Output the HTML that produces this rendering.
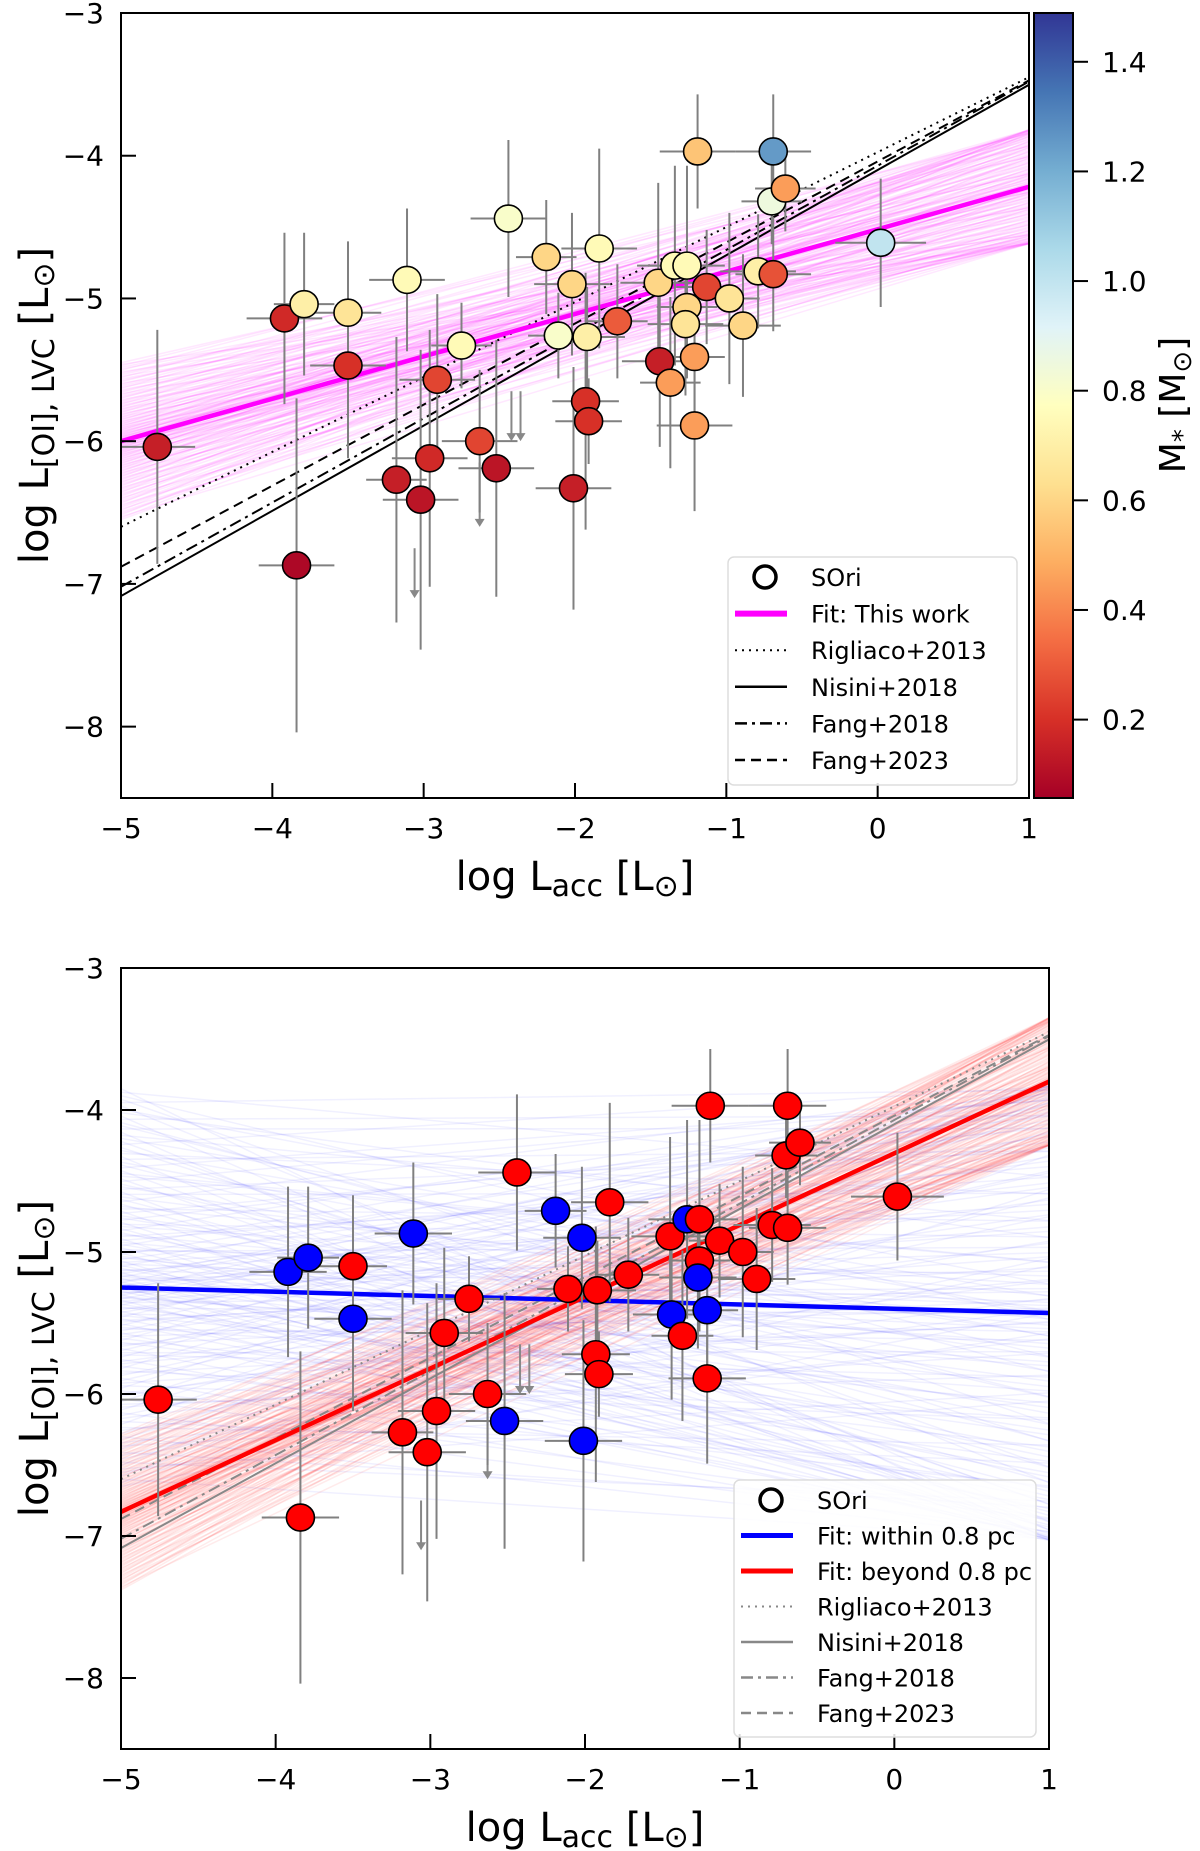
<!DOCTYPE html>
<html><head><meta charset="utf-8"><style>
html,body{margin:0;padding:0;background:#fff;}
svg{display:block;font-family:"DejaVu Sans","Liberation Sans",sans-serif;}
</style></head><body>
<svg id="fig" width="1200" height="1851" viewBox="0 0 1200 1851" xmlns="http://www.w3.org/2000/svg">
<defs>
<linearGradient id="cmap" x1="0" y1="1" x2="0" y2="0">
<stop offset="0" stop-color="#a50026"/><stop offset="0.1" stop-color="#d73027"/><stop offset="0.2" stop-color="#f46d43"/><stop offset="0.3" stop-color="#fdae61"/><stop offset="0.4" stop-color="#fee090"/><stop offset="0.5" stop-color="#ffffbf"/><stop offset="0.6" stop-color="#e0f3f8"/><stop offset="0.7" stop-color="#abd9e9"/><stop offset="0.8" stop-color="#74add1"/><stop offset="0.9" stop-color="#4575b4"/><stop offset="1" stop-color="#313695"/>
</linearGradient>
<clipPath id="clipTop"><rect x="121" y="13" width="908" height="785"/></clipPath>
<clipPath id="clipBot"><rect x="121" y="968" width="928" height="781"/></clipPath>
</defs>
</svg>
<script>
// ---- data ----
const logLacc = [-4.76,-3.92,-3.79,-3.50,-3.50,-3.84,-3.11,-2.75,-2.91,-3.18,-2.96,-3.02,-2.63,-2.52,-2.44,-2.19,-2.02,-2.01,-2.11,-1.92,-1.84,-1.93,-1.91,-1.72,-1.44,-1.45,-1.37,-1.34,-1.26,-1.19,-1.26,-1.27,-1.21,-1.21,-1.13,-0.98,-0.89,-0.79,-0.69,-0.69,-0.70,-0.61,0.02];
const logLoi = [-6.04,-5.14,-5.04,-5.10,-5.47,-6.87,-4.87,-5.33,-5.57,-6.27,-6.12,-6.41,-6.00,-6.19,-4.44,-4.71,-4.90,-6.33,-5.26,-5.27,-4.65,-5.72,-5.86,-5.16,-5.44,-4.89,-5.59,-4.77,-4.77,-3.97,-5.06,-5.18,-5.41,-5.89,-4.92,-5.00,-5.19,-4.81,-4.83,-3.97,-4.32,-4.23,-4.61];
const xErr = [0.25,0.25,0.2,0.22,0.25,0.25,0.25,0.2,0.25,0.2,0.25,0.25,0.25,0.25,0.25,0.2,0.25,0.25,0.2,0.25,0.25,0.22,0.22,0.2,0.25,0.25,0.2,0.25,0.25,0.25,0.2,0.25,0.2,0.25,0.2,0.2,0.25,0.25,0.25,0.25,0.2,0.2,0.3];
const yErr = [0.82,0.6,0.5,0.5,0.65,1.17,0.5,0.3,0.6,1.0,0.9,1.05,0.5,0.9,0.55,0.4,0.5,0.85,0.3,0.35,0.7,0.9,0.3,0.4,0.6,0.7,0.6,0.7,0.7,0.4,0.5,0.5,0.5,0.6,0.4,0.6,0.5,0.4,0.4,0.4,0.3,0.3,0.45];
const mass = [0.15,0.18,0.7,0.65,0.2,0.08,0.75,0.75,0.25,0.15,0.18,0.12,0.25,0.12,0.8,0.6,0.6,0.15,0.8,0.7,0.75,0.2,0.2,0.3,0.15,0.6,0.45,0.75,0.75,0.55,0.6,0.65,0.45,0.45,0.25,0.65,0.6,0.7,0.28,1.25,0.85,0.45,1.0];
const within = [0,1,1,0,1,0,1,0,0,0,0,0,0,1,0,1,1,1,0,0,0,0,0,0,1,0,0,1,0,0,0,1,1,0,0,0,0,0,0,0,0,0,0];
const limX = [-2.42,-2.36,-2.63,-3.06];
const limTop = [-5.65,-5.65,-6.15,-6.75];
const limBot = [-6.0,-6.0,-6.6,-7.1];
// fit lines: [slope, intercept]
const fitThisWork = [0.297,-4.515];
const fitRigliaco = [0.525,-3.975];
const fitNisini = [0.597,-4.10];
const fitFang18 = [0.59,-4.07];
const fitFang23 = [0.568,-4.04];
const fitWithin = [-0.03,-5.40];
const fitBeyond = [0.505,-4.305];
const xTicks = [-5,-4,-3,-2,-1,0,1];
const yTicks = [-3,-4,-5,-6,-7,-8];
const cbTicks = [0.2,0.4,0.6,0.8,1.0,1.2,1.4];

const NS="http://www.w3.org/2000/svg";
const svg=document.getElementById('fig');
function el(tag,attrs,parent){const e=document.createElementNS(NS,tag);for(const k in attrs)e.setAttribute(k,attrs[k]);(parent||svg).appendChild(e);return e;}
const stops=["#a50026","#d73027","#f46d43","#fdae61","#fee090","#ffffbf","#e0f3f8","#abd9e9","#74add1","#4575b4","#313695"];
function hex(c){return [1,3,5].map(i=>parseInt(c.substr(i,2),16));}
function cmap(m){let t=(m-0.057)/(1.489-0.057);t=Math.max(0,Math.min(1,t))*10;const i=Math.min(9,Math.floor(t)),f=t-i;const a=hex(stops[i]),b=hex(stops[i+1]);return 'rgb('+a.map((v,k)=>Math.round(v+(b[k]-v)*f)).join(',')+')';}
function minus(v){return (v<0?'\u2212':'')+Math.abs(v);}

function makePanel(P){
  const sx=v=>P.x0+(v+5)*(P.x1-P.x0)/6;
  const sy=v=>P.y0+(-3-v)*(P.y1-P.y0)/5.5;
  const g=el('g',{'clip-path':'url(#'+P.clip+')'});
  
  
  // sample bands
  P.bands.forEach(b=>{
    const N=b.n;
    for(let k=0;k<=N;k++){
      const u=k/N*2-1;
      const t=u*Math.abs(u)*0.6+u*0.4;
      const s=Math.sin(k*2.39996);
      const w=s*Math.abs(s)*0.6+s*0.4;
      const yl=b.fit[0]*-5+b.fit[1]+t*b.wl, yr=b.fit[0]*1+b.fit[1]+w*b.wr;
      const ln=el('line',{x1:sx(-5),y1:sy(yl),x2:sx(1),y2:sy(yr),stroke:b.color,'stroke-width':1.5,'stroke-opacity':b.op},g);
      
      
    }
  });
  // literature lines
  P.lits.forEach(L=>{
    const ln=el('line',{x1:sx(-5),y1:sy(L.fit[0]*-5+L.fit[1]),x2:sx(1),y2:sy(L.fit[0]+L.fit[1]),stroke:L.color,'stroke-width':2,'stroke-dasharray':L.dash},g);
    
    
  });
  P.fits.forEach(F=>{
    const ln=el('line',{x1:sx(-5),y1:sy(F.fit[0]*-5+F.fit[1]),x2:sx(1),y2:sy(F.fit[0]+F.fit[1]),stroke:F.color,'stroke-width':4.5},g);
    
    
  });
  // upper limits
  for(let i=0;i<limX.length;i++){
    const x=sx(limX[i]),ya=sy(limTop[i]),yb=sy(limBot[i]);
    const a=el('g',{},g);
    
    
    el('line',{x1:x,y1:ya,x2:x,y2:yb-6,stroke:'#888','stroke-width':2},a);
    el('path',{d:`M${x-5},${yb-8} L${x+5},${yb-8} L${x},${yb} Z`,fill:'#888'},a);
  }
  // error bars
  for(let i=0;i<logLacc.length;i++){
    const e=el('g',{stroke:'#808080','stroke-width':2},g);
    
    
    el('line',{x1:sx(logLacc[i]-xErr[i]),y1:sy(logLoi[i]),x2:sx(logLacc[i]+xErr[i]),y2:sy(logLoi[i])},e);
    el('line',{x1:sx(logLacc[i]),y1:sy(logLoi[i]-yErr[i]),x2:sx(logLacc[i]),y2:sy(logLoi[i]+yErr[i])},e);
  }
  for(let i=0;i<logLacc.length;i++){
    const c=el('ellipse',{cx:sx(logLacc[i]),cy:sy(logLoi[i]),rx:14,ry:13.5,fill:P.color(i),stroke:'#000','stroke-width':1.6},g);
    
    
  }
  // frame
  const fr=el('rect',{x:P.x0,y:P.y0,width:P.x1-P.x0,height:P.y1-P.y0,fill:'none',stroke:'#000','stroke-width':2});
  
  
  xTicks.forEach(v=>{
    const x=sx(v);
    el('line',{x1:x,y1:P.y1,x2:x,y2:P.y1-15,stroke:'#000','stroke-width':2});
    const t=el('text',{x:x,y:P.y1+40,'font-size':28,'text-anchor':'middle',fill:'#000'});t.textContent=minus(v);
    
    
  });
  yTicks.forEach(v=>{
    const y=sy(v);
    el('line',{x1:P.x0,y1:y,x2:P.x0+15,y2:y,stroke:'#000','stroke-width':2});
    const t=el('text',{x:P.x0-17,y:y+10,'font-size':28,'text-anchor':'end',fill:'#000'});t.textContent=minus(v);
    
    
  });
  const xl=el('text',{x:(P.x0+P.x1)/2,y:P.y1+92,'font-size':40,'text-anchor':'middle',fill:'#000'});
  xl.innerHTML='log L<tspan font-size="30" dy="6">acc</tspan><tspan dy="-6"> [L</tspan><tspan font-size="30" dy="6">⊙</tspan><tspan dy="-6">]</tspan>';
  
  
  const cy=(P.y0+P.y1)/2;
  const yl=el('text',{x:0,y:0,'font-size':40,'text-anchor':'middle',fill:'#000',transform:`translate(48,${cy}) rotate(-90)`});
  yl.innerHTML='log L<tspan font-size="30" dy="6">[OI], LVC</tspan><tspan dy="-6"> [L</tspan><tspan font-size="30" dy="6">⊙</tspan><tspan dy="-6">]</tspan>';
  
  
  // legend
  const lg=el('g',{});
  
  
  el('rect',{x:P.lx,y:P.ly,width:P.lw,height:P.lh,rx:6,fill:'#fff','fill-opacity':0.85,stroke:'#ddd','stroke-width':1.5},lg);
  P.legend.forEach((L,k)=>{
    const y=P.ly+20+k*P.lstep;
    const row=el('g',{},lg);
    
    
    if(L.marker) el('circle',{cx:P.lx+37,cy:y,r:11,fill:'none',stroke:'#000','stroke-width':3.5},row);
    else el('line',{x1:P.lx+7,y1:y,x2:P.lx+59,y2:y,stroke:L.color,'stroke-width':L.w,'stroke-dasharray':L.dash||''},row);
    const t=el('text',{x:P.lx+83,y:y+9,'font-size':24,fill:'#000'},row);t.textContent=L.label;
  });
}

makePanel({name:'top',x0:121,x1:1029,y0:13,y1:798,clip:'clipTop',
  color:i=>cmap(mass[i]),
  bands:[{fit:fitThisWork,wl:0.55,wr:0.4,color:'#ff00ff',op:0.09,n:160}],
  lits:[{name:'rigliaco-2013-line',fit:fitRigliaco,color:'#000',dash:'2,5'},
        {name:'nisini-2018-line',fit:fitNisini,color:'#000',dash:''},
        {name:'fang-2018-line',fit:fitFang18,color:'#000',dash:'12,5,3,5'},
        {name:'fang-2023-line',fit:fitFang23,color:'#000',dash:'10,6'}],
  fits:[{name:'fit-this-work-line',fit:fitThisWork,color:'#ff00ff'}],
  lx:728,ly:557,lw:289,lh:228,lstep:36.6,
  legend:[{marker:1,label:'SOri'},{label:'Fit: This work',color:'#ff00ff',w:6},{label:'Rigliaco+2013',color:'#000',w:2,dash:'2,5'},{label:'Nisini+2018',color:'#000',w:2.5},{label:'Fang+2018',color:'#000',w:2.5,dash:'12,5,3,5'},{label:'Fang+2023',color:'#000',w:2.5,dash:'10,6'}]
});
makePanel({name:'bottom',x0:121,x1:1049,y0:968,y1:1749,clip:'clipBot',
  color:i=>within[i]?'#0000ff':'#ff0000',
  bands:[{fit:fitWithin,wl:1.4,wr:1.6,color:'#0000ff',op:0.06,n:180},{fit:fitBeyond,wl:0.55,wr:0.45,color:'#ff0000',op:0.08,n:160}],
  lits:[{name:'rigliaco-2013-line',fit:fitRigliaco,color:'#888',dash:'2,5'},
        {name:'nisini-2018-line',fit:fitNisini,color:'#888',dash:''},
        {name:'fang-2018-line',fit:fitFang18,color:'#888',dash:'12,5,3,5'},
        {name:'fang-2023-line',fit:fitFang23,color:'#888',dash:'10,6'}],
  fits:[{name:'fit-within-line',fit:fitWithin,color:'#0000ff'},{name:'fit-beyond-line',fit:fitBeyond,color:'#ff0000'}],
  lx:734,ly:1480,lw:302,lh:257,lstep:35.5,
  legend:[{marker:1,label:'SOri'},{label:'Fit: within 0.8 pc',color:'#0000ff',w:5},{label:'Fit: beyond 0.8 pc',color:'#ff0000',w:5},{label:'Rigliaco+2013',color:'#888',w:2,dash:'2,5'},{label:'Nisini+2018',color:'#888',w:2.5},{label:'Fang+2018',color:'#888',w:2.5,dash:'12,5,3,5'},{label:'Fang+2023',color:'#888',w:2.5,dash:'10,6'}]
});
// colorbar
const cb=el('rect',{x:1034,y:13,width:39,height:785,fill:'url(#cmap)',stroke:'#000','stroke-width':2});


const cbY=m=>13+(1.489-m)*785/(1.489-0.057);
cbTicks.forEach(v=>{
  const y=cbY(v);
  el('line',{x1:1073,y1:y,x2:1088,y2:y,stroke:'#000','stroke-width':2});
  const t=el('text',{x:1102,y:y+10,'font-size':28,fill:'#000'});t.textContent=v.toFixed(1);
  
  
});
const cl=el('text',{x:0,y:0,'font-size':36,'text-anchor':'middle',fill:'#000',transform:'translate(1185,405) rotate(-90)'});
cl.innerHTML='M<tspan font-size="26" dy="6">*</tspan><tspan dy="-6"> [M</tspan><tspan font-size="26" dy="6">⊙</tspan><tspan dy="-6">]</tspan>';


</script>
</body></html>
